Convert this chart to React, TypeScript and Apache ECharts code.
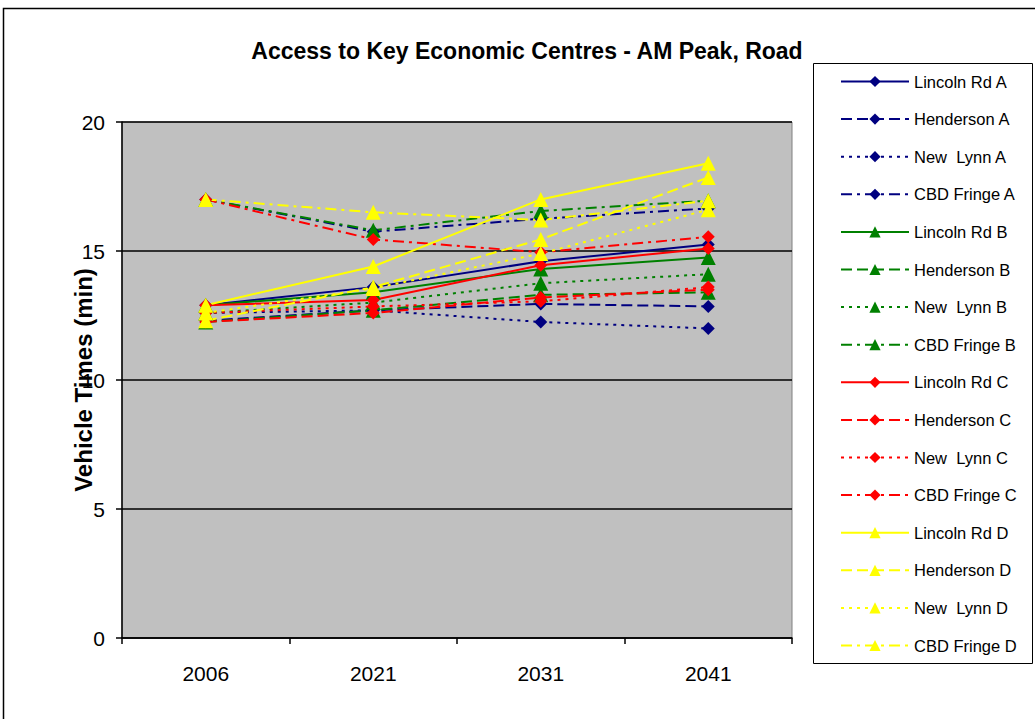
import React, { useEffect, useRef } from "react";
import * as echarts from "echarts";

const years = ["2006", "2021", "2031", "2041"];

const lincolnA = [12.9, 13.6, 14.6, 15.25];
const hendersonA = [12.3, 12.7, 12.95, 12.85];
const newLynnA = [12.6, 12.7, 12.25, 12.0];
const cbdA = [17.0, 15.75, 16.25, 16.65];

const lincolnB = [12.9, 13.4, 14.3, 14.75];
const hendersonB = [12.25, 12.7, 13.3, 13.4];
const newLynnB = [12.6, 13.0, 13.75, 14.1];
const cbdB = [17.0, 15.8, 16.55, 16.95];

const lincolnC = [12.9, 13.1, 14.45, 15.1];
const hendersonC = [12.25, 12.6, 13.2, 13.5];
const newLynnC = [12.6, 12.85, 13.05, 13.6];
const cbdC = [17.0, 15.45, 14.95, 15.55];

const lincolnD = [12.9, 14.4, 17.0, 18.4];
const hendersonD = [12.3, 13.6, 15.45, 17.85];
const newLynnD = [12.6, 13.55, 14.9, 16.6];
const cbdD = [17.0, 16.5, 16.2, 16.95];

const yTicks = { min: 0, max: 20, interval: 5 };
const yAxisTitle = "Vehicle Times (min)";

const seriesDefs = [
  { name: "Lincoln Rd A", data: lincolnA, color: "#000080", dash: "solid", symbol: "diamond" },
  { name: "Henderson A", data: hendersonA, color: "#000080", dash: "dash", symbol: "diamond" },
  { name: "New  Lynn A", data: newLynnA, color: "#000080", dash: "dot", symbol: "diamond" },
  { name: "CBD Fringe A", data: cbdA, color: "#000080", dash: "dashdot", symbol: "diamond" },
  { name: "Lincoln Rd B", data: lincolnB, color: "#008000", dash: "solid", symbol: "triangle" },
  { name: "Henderson B", data: hendersonB, color: "#008000", dash: "dash", symbol: "triangle" },
  { name: "New  Lynn B", data: newLynnB, color: "#008000", dash: "dot", symbol: "triangle" },
  { name: "CBD Fringe B", data: cbdB, color: "#008000", dash: "dashdot", symbol: "triangle" },
  { name: "Lincoln Rd C", data: lincolnC, color: "#FF0000", dash: "solid", symbol: "diamond" },
  { name: "Henderson C", data: hendersonC, color: "#FF0000", dash: "dash", symbol: "diamond" },
  { name: "New  Lynn C", data: newLynnC, color: "#FF0000", dash: "dot", symbol: "diamond" },
  { name: "CBD Fringe C", data: cbdC, color: "#FF0000", dash: "dashdot", symbol: "diamond" },
  { name: "Lincoln Rd D", data: lincolnD, color: "#FFFF00", dash: "solid", symbol: "triangle" },
  { name: "Henderson D", data: hendersonD, color: "#FFFF00", dash: "dash", symbol: "triangle" },
  { name: "New  Lynn D", data: newLynnD, color: "#FFFF00", dash: "dot", symbol: "triangle" },
  { name: "CBD Fringe D", data: cbdD, color: "#FFFF00", dash: "dashdot", symbol: "triangle" },
];

const dashMap: Record<string, any> = {
  solid: "solid",
  dash: [11, 5],
  dot: [3, 5],
  dashdot: [11, 5, 3, 5],
};

export default function App() {
  const ref = useRef<HTMLDivElement>(null);
  useEffect(() => {
    if (!ref.current) return;
    const chart = echarts.init(ref.current, null, { renderer: "svg" });
    const font = "Arial, 'Liberation Sans', sans-serif";
    chart.setOption({
      animation: false,
      backgroundColor: "#FFFFFF",
      textStyle: { fontFamily: font },
      title: {
        text: "Access to Key Economic Centres - AM Peak, Road",
        left: 522,
        textAlign: "center",
        top: 34,
        textStyle: { fontFamily: font, fontSize: 23, fontWeight: "bold", color: "#000" },
      },
      graphic: [
        {
          type: "rect",
          shape: { x: 3.5, y: 8.5, width: 1050, height: 730 },
          style: { fill: "none", stroke: "#000", lineWidth: 1.5 },
          z: 100,
          silent: true,
        },
        {
          type: "rect",
          shape: { x: 813.5, y: 63.5, width: 219, height: 600 },
          style: { fill: "#fff", stroke: "#000", lineWidth: 1 },
          z: 0,
          silent: true,
        },
        {
          type: "rect",
          shape: { x: 122, y: 122, width: 670, height: 516 },
          style: { fill: "#C0C0C0", stroke: "#808080", lineWidth: 1 },
          z: -1,
          silent: true,
        },
        {
          type: "text",
          x: 83,
          y: 380,
          rotation: Math.PI / 2,
          style: {
            text: yAxisTitle,
            fontFamily: font,
            fontSize: 24,
            fontWeight: "bold",
            fill: "#000",
            align: "center",
            verticalAlign: "middle",
          },
          z: 50,
          silent: true,
        },
      ],
      legend: {
        orient: "vertical",
        left: 813,
        top: 63,
        padding: [10, 8, 10, 27],
        itemWidth: 68,
        itemHeight: 14,
        itemGap: 20.6,
        textStyle: { fontFamily: font, fontSize: 16.5, color: "#000" },
        data: seriesDefs.map((s) => s.name),
        z: 10,
      },
      grid: { left: 122, top: 122, width: 670, height: 516 },
      xAxis: {
        type: "category",
        data: years,
        boundaryGap: true,
        axisLine: { show: true, lineStyle: { color: "#000", width: 1.5 } },
        axisTick: { show: true, length: 6, lineStyle: { color: "#000", width: 1.5 } },
        axisLabel: { fontFamily: font, fontSize: 21, color: "#000", margin: 25 },
        splitLine: { show: false },
      },
      yAxis: {
        type: "value",
        min: yTicks.min,
        max: yTicks.max,
        interval: yTicks.interval,
        axisLine: { show: true, lineStyle: { color: "#000", width: 1.5 } },
        axisTick: { show: true, length: 6, lineStyle: { color: "#000", width: 1.5 } },
        axisLabel: { fontFamily: font, fontSize: 21, color: "#000", margin: 17 },
        splitLine: { show: true, lineStyle: { color: "#000", width: 1.5 } },
      },
      series: seriesDefs.map((s) => ({
        name: s.name,
        type: "line",
        data: s.data,
        symbol: s.symbol,
        symbolSize: s.symbol === "diamond" ? 13 : 15,
        showSymbol: true,
        lineStyle: { color: s.color, width: 2, type: dashMap[s.dash] },
        itemStyle: { color: s.color },
        emphasis: { disabled: true },
      })),
    });
    return () => chart.dispose();
  }, []);
  return (
    <div
      ref={ref}
      style={{ position: "fixed", left: 0, top: 0, width: 1035, height: 719 }}
    />
  );
}
